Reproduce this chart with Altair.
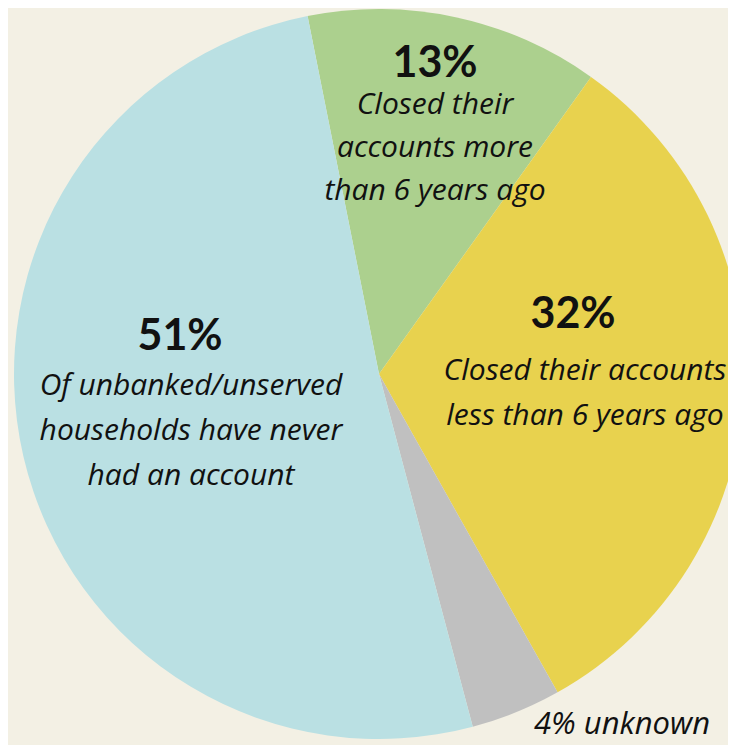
import math
import altair as alt
import pandas as pd

# ---- data ----
categories = ["Closed more than 6 years ago", "Closed less than 6 years ago", "Unknown", "Never had an account"]
values = [13, 32, 4, 51]
colors = ["#acd08e", "#e8d24e", "#c0c0c0", "#bae0e3"]
order = [0, 1, 2, 3]

pct_labels = ["13%", "32%", "4% unknown", "51%"]
desc_labels = [
    ["Closed their", "accounts more", "than 6 years ago"],
    ["Closed their accounts", "less than 6 years ago"],
    [],
    ["Of unbanked/unserved", "households have never", "had an account"],
]

df = pd.DataFrame({"category": categories, "value": values, "order": order})

BG = "#f3f0e4"
FONT = "Lato"
DFONT = "Open Sans"
W, H = 720, 737
CX, CY, R = 371, 366, 365
start = -0.197

pie = alt.Chart(df).mark_arc(stroke=None, strokeWidth=0).encode(
    theta=alt.Theta("value:Q", stack=True,
                    scale=alt.Scale(range=[start, start + 2 * math.pi])),
    color=alt.Color("category:N", scale=alt.Scale(domain=categories, range=colors), legend=None),
    order=alt.Order("order:Q"),
    x=alt.value(CX), y=alt.value(CY), radius=alt.value(R),
)


def pct_text(txt, x, y, size=43, bold=True, italic=False, font=FONT):
    return alt.Chart(pd.DataFrame({"t": [txt]})).mark_text(
        font=font, fontSize=size, fontWeight="bold" if bold else "normal",
        fontStyle="italic" if italic else "normal",
        align="center", baseline="alphabetic", color="#111111",
    ).encode(text="t:N", x=alt.value(x), y=alt.value(y))


def desc_text(lines, x, y, lh=44, size=30):
    return alt.Chart(pd.DataFrame({"t": ["\n".join(lines)]})).mark_text(
        font=DFONT, fontSize=size, fontStyle="italic", lineBreak="\n", lineHeight=lh,
        align="center", baseline="alphabetic", color="#111111",
    ).encode(text="t:N", x=alt.value(x), y=alt.value(y))


layers = [
    pie,
    pct_text(pct_labels[0], 427, 69),
    desc_text(desc_labels[0], 427, 106, lh=43),
    pct_text(pct_labels[1], 565, 320),
    desc_text(desc_labels[1], 577, 372, lh=45),
    pct_text(pct_labels[3], 172, 342),
    desc_text(desc_labels[3], 183, 387, lh=45),
    pct_text(pct_labels[2], 614, 726, size=31, bold=False, italic=True, font=DFONT),
]

chart = alt.layer(*layers).properties(
    width=W, height=H, background=BG, padding=0,
    autosize=alt.AutoSizeParams(type="none"),
).configure_view(stroke=None)

chart.save("out.html", embed_options={"renderer": "svg", "actions": False})
